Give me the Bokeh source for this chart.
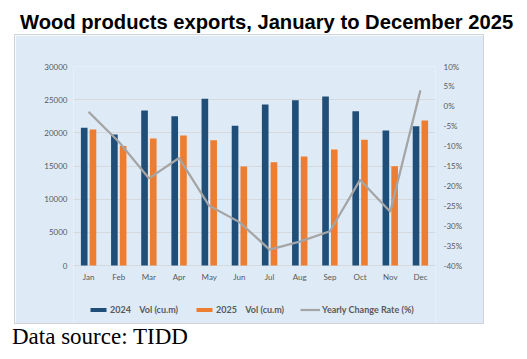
from bokeh.plotting import figure
from bokeh.models import (FactorRange, Range1d, LinearAxis, FixedTicker, NumeralTickFormatter,
                          Legend, LegendItem, ColumnDataSource, Div)
from bokeh.layouts import column
from bokeh.transform import dodge
from bokeh.embed import file_html
from bokeh.resources import INLINE

months = ["Jan", "Feb", "Mar", "Apr", "May", "Jun", "Jul", "Aug", "Sep", "Oct", "Nov", "Dec"]
vol_2024 = [20750, 19750, 23370, 22510, 25130, 21050, 24270, 24920, 25480, 23270, 20350, 21000]
vol_2025 = [20500, 18000, 19140, 19600, 18900, 14920, 15580, 16430, 17490, 18940, 14980, 21860]
change_pct = [-1.4, -8.9, -18.1, -13.0, -25.0, -29.1, -36.0, -34.0, -31.4, -18.5, -26.5, 4.0]
left_ticks = [0, 5000, 10000, 15000, 20000, 25000, 30000]
right_ticks = [-40, -35, -30, -25, -20, -15, -10, -5, 0, 5, 10]

title_text = "Wood products exports, January to December 2025"
source_text = "Data source: TIDD"
legend_labels = ["2024\u00a0\u00a0\u00a0 Vol (cu.m)", "2025\u00a0\u00a0\u00a0 Vol (cu.m)", "Yearly Change Rate (%)"]

BG = "#DEEBF7"
GREY_TXT = "#595959"
FONT = "Lato"

# layout (pixels): plot data area is 199px tall; the frame extends 58px below it
FRAME_H = 257
DATA_H = 199
EXTRA = (FRAME_H - DATA_H) / DATA_H
l_lo, l_hi = left_ticks[0], left_ticks[-1]
r_lo, r_hi = right_ticks[0] / 100, right_ticks[-1] / 100

src = ColumnDataSource(dict(month=months, v24=vol_2024, v25=vol_2025,
                            pct=[c / 100 for c in change_pct]))

p = figure(x_range=FactorRange(*months),
           y_range=Range1d(l_lo - (l_hi - l_lo) * EXTRA, l_hi),
           x_axis_location="above",
           frame_width=362, frame_height=FRAME_H,
           min_border_left=58, min_border_right=48, min_border_top=31, min_border_bottom=0,
           output_backend="svg", toolbar_location=None,
           background_fill_color=BG, border_fill_color=BG, outline_line_color=None)
p.x_range.range_padding = 0
p.extra_y_ranges = {"pct": Range1d(r_lo - (r_hi - r_lo) * EXTRA, r_hi)}

r24 = p.vbar(x=dodge("month", -0.145, range=p.x_range), top="v24", width=0.22,
             source=src, fill_color="#1F4E79", line_color=None)
r25 = p.vbar(x=dodge("month", 0.145, range=p.x_range), top="v25", width=0.22,
             source=src, fill_color="#ED7D31", line_color=None)
rl = p.line(x="month", y="pct", y_range_name="pct", source=src,
            line_color="#A5A5A5", line_width=2.25)

p.yaxis.ticker = FixedTicker(ticks=left_ticks)
p.ygrid.ticker = FixedTicker(ticks=left_ticks)
p.ygrid.grid_line_color = "#D4D9DE"
p.ygrid.grid_line_width = 1
p.xgrid.grid_line_color = None

right = LinearAxis(y_range_name="pct",
                   ticker=FixedTicker(ticks=[t / 100 for t in right_ticks]),
                   formatter=NumeralTickFormatter(format="0%"))
p.add_layout(right, "right")

for ax in [p.xaxis[0], p.yaxis[0], right]:
    ax.axis_line_color = None
    ax.major_tick_line_color = None
    ax.minor_tick_line_color = None
    ax.major_tick_out = 0
    ax.major_tick_in = 0
    ax.minor_tick_out = 0
    ax.major_label_text_font = FONT
    ax.major_label_text_font_size = "8px"
    ax.major_label_text_color = GREY_TXT
p.yaxis[0].major_label_standoff = 6
right.major_label_standoff = 8
p.xaxis[0].fixed_location = 0
p.xaxis[0].major_label_standoff = -16

legend = Legend(items=[LegendItem(label=legend_labels[0], renderers=[r24]),
                       LegendItem(label=legend_labels[1], renderers=[r25]),
                       LegendItem(label=legend_labels[2], renderers=[rl])],
                orientation="horizontal", location=(15, 8),
                glyph_width=20, glyph_height=5, label_height=10, label_standoff=2,
                spacing=16, padding=0, margin=0,
                background_fill_alpha=0, border_line_color=None,
                label_text_font=FONT, label_text_font_size="9px",
                label_text_font_style="bold", label_text_color=GREY_TXT)
p.add_layout(legend, "center")

p.styles = {"outline": "1px solid #D0D4D8"}
p.margin = (0, 0, 0, 15)

title_div = Div(text='<div style="font-family: \'Liberation Sans\', Arial, sans-serif; font-weight: bold; '
                     'font-size: 20.2px; color: #000; padding: 10.5px 0 0 20px; line-height: 23px; white-space: nowrap;">'
                     + title_text + '</div>', width=527, height=35, margin=(0, 0, 0, 0))
source_div = Div(text='<div style="font-family: \'Liberation Serif\', \'Times New Roman\', serif; '
                      'font-size: 23px; color: #000; padding: 1px 0 0 12px; line-height: 26px; white-space: nowrap;">'
                      + source_text + '</div>', width=527, height=30, margin=(0, 0, 0, 0))

layout = column(title_div, p, source_div, spacing=0)

open("out.html", "w").write(file_html(layout, INLINE))
